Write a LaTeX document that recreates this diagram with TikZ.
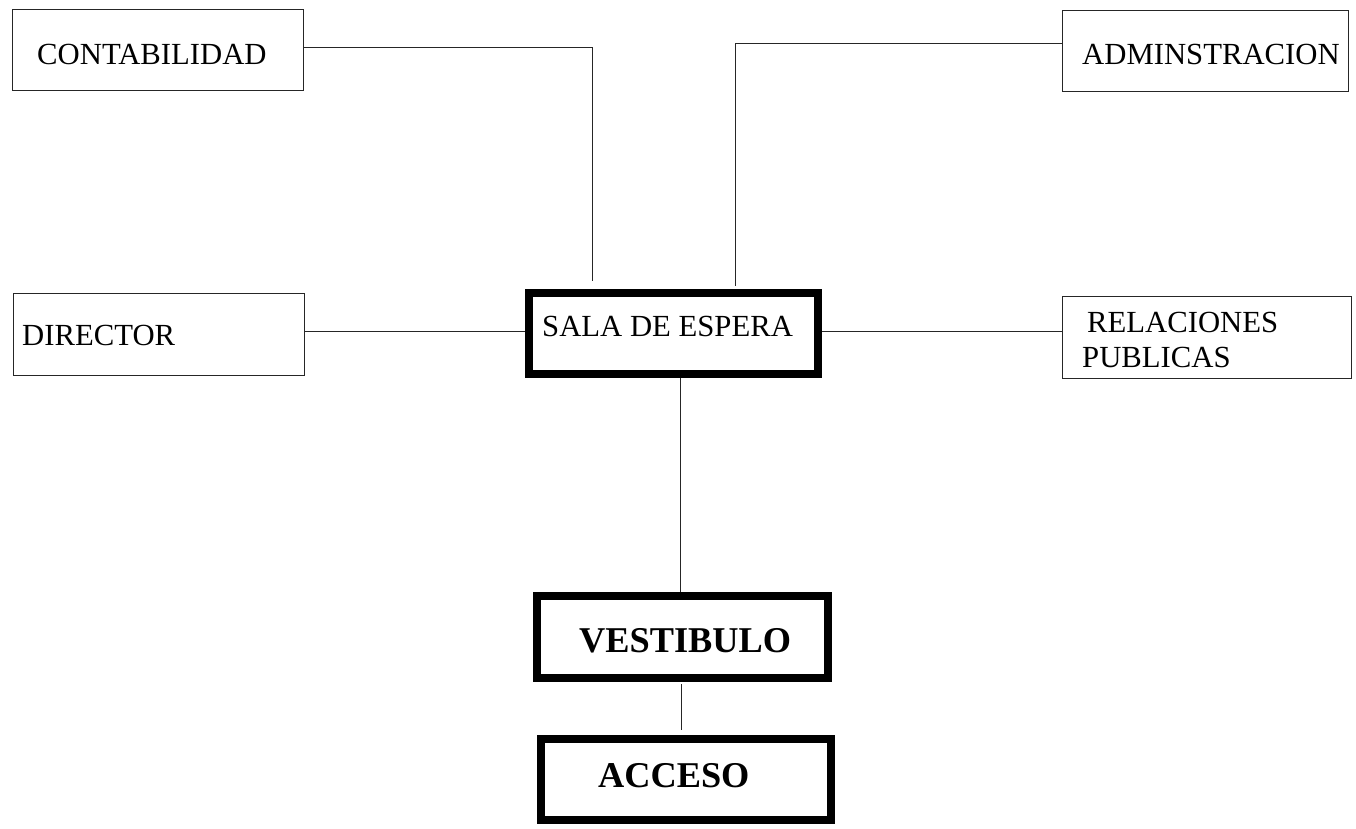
\documentclass[tikz,border=0pt]{standalone}
\usepackage{fontspec}
\setmainfont{Liberation Serif}
\begin{document}
\begin{tikzpicture}[x=1pt,y=-1pt,
  thinbox/.style={draw=black!85, line width=1pt, inner sep=0pt},
  thickbox/.style={draw=black, line width=8pt, inner sep=0pt},
  conn/.style={draw=black!85, line width=1pt},
  lbl/.style={anchor=base west, inner sep=0pt, font=\fontsize{30.7}{37}\selectfont},
  blbl/.style={anchor=base west, inner sep=0pt, font=\fontsize{36.3}{44}\selectfont\bfseries}]
\useasboundingbox (0,0) rectangle (1356,828);
% boxes
\node[thinbox, minimum width=291pt, minimum height=81pt] (con) at (157.5,49.5) {};
\node[thinbox, minimum width=286pt, minimum height=81pt] (adm) at (1205,50.5) {};
\node[thinbox, minimum width=291pt, minimum height=82pt] (dir) at (158.5,334) {};
\node[thinbox, minimum width=289pt, minimum height=82pt] (rel) at (1206.5,337) {};
\node[thickbox, minimum width=289pt, minimum height=81pt] (sala) at (673.5,333.5) {};
\node[thickbox, minimum width=291pt, minimum height=82pt] (vest) at (682.5,637) {};
\node[thickbox, minimum width=290pt, minimum height=81pt] (acc) at (686,779.5) {};
% texts
\node[lbl] (tcon) at (37,64) {CONTABILIDAD};
\node[lbl] (tadm) at (1082,64) {ADMINSTRACION};
\node[lbl] (tdir) at (22,345) {DIRECTOR};
\node[lbl] (tsala) at (542,336) {SALA DE ESPERA};
\node[lbl] (trel1) at (1087,332) {RELACIONES};
\node[lbl] (trel2) at (1082,367) {PUBLICAS};
\node[blbl] (tvest) at (579,652) {VESTIBULO};
\node[blbl] (tacc) at (598,787) {ACCESO};
% connectors
\draw[conn, shorten >=8pt] ([yshift=2.5pt]con.east) -| ([xshift=-81.5pt]sala.north);
\draw[conn, shorten >=3pt] ([yshift=7.5pt]adm.west) -| ([xshift=61.5pt]sala.north);
\draw[conn] ([yshift=3pt]dir.east) -- ([yshift=3pt]dir.east -| sala.west);
\draw[conn] ([yshift=2.5pt]sala.east) -- ([yshift=2.5pt]sala.east -| rel.west);
\draw[conn] ([xshift=6.5pt]sala.south) -- ([xshift=6.5pt]sala.south |- vest.north);
\draw[conn, shorten <=2pt, shorten >=5pt] ([xshift=-1.5pt]vest.south) -- ([xshift=-1.5pt]vest.south |- acc.north);
\end{tikzpicture}
\end{document}
